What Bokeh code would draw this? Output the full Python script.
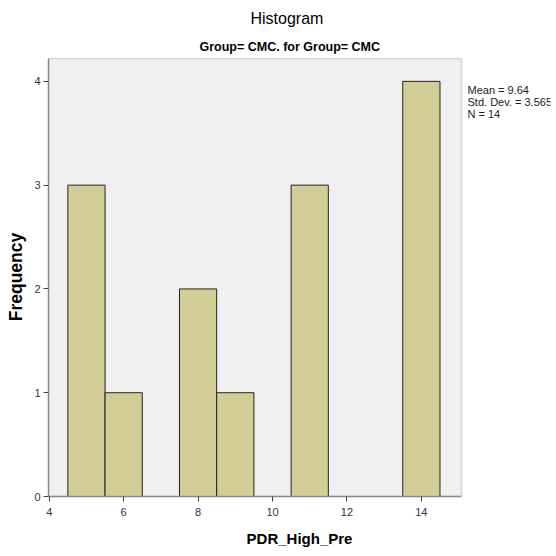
from bokeh.plotting import figure
from bokeh.models import ColumnDataSource, Label, Title, FixedTicker, Range1d, BoxAnnotation
from bokeh.embed import file_html
from bokeh.resources import INLINE

# data
bin_centers = [5, 6, 8, 9, 11, 14]
counts = [3, 1, 2, 1, 3, 4]
x_ticks = [4, 6, 8, 10, 12, 14]
y_ticks = [0, 1, 2, 3, 4]
stats_lines = ["Mean = 9.64", "Std. Dev. = 3.565", "N = 14"]
title_text = "Histogram"
subtitle_text = "Group= CMC. for Group= CMC"
x_label = "PDR_High_Pre"
y_label = "Frequency"

FONT = "Liberation Sans"
X0, X1 = 3.98, 15.08   # visible plot-area extent (data units)
Y0, Y1 = 0.0, 4.22

p = figure(width=552, height=552, output_backend="svg", toolbar_location=None,
           x_range=Range1d(X0, 17.47), y_range=Range1d(Y0, 4.23),
           min_border_left=48, min_border_right=2, min_border_top=57, min_border_bottom=56)

p.background_fill_color = "white"
p.border_fill_color = "white"
p.outline_line_color = None
p.xgrid.visible = False
p.ygrid.visible = False

p.add_layout(BoxAnnotation(left=X0, right=X1, bottom=Y0, top=Y1, fill_color="#f0f0f0",
                           fill_alpha=1, line_color="#8a8a8a", line_width=1.5, level="underlay"))

src = ColumnDataSource(dict(x=bin_centers, top=counts))
p.vbar(x="x", top="top", width=1.0, bottom=0, source=src,
       fill_color="#d3ce98", line_color="#222222", line_width=1)

for ax, ticks in ((p.xaxis, x_ticks), (p.yaxis, y_ticks)):
    ax.ticker = FixedTicker(ticks=ticks)
    ax.minor_tick_line_color = None
    ax.major_tick_out = 5
    ax.major_tick_in = 0
    ax.axis_line_color = "#8a8a8a"
    ax.axis_line_width = 1.5
    ax.major_tick_line_color = "#444444"
    ax.major_label_text_font = FONT
    ax.major_label_text_font_size = "11px"
    ax.major_label_text_color = "#333333"
    ax.axis_label_text_font = FONT
    ax.axis_label_text_font_style = "bold"
    ax.axis_label_text_color = "black"

p.xaxis.bounds = (X0, X1)
p.yaxis.bounds = (Y0, Y1)
p.xaxis.axis_label = x_label
p.xaxis.axis_label_text_font_size = "15px"
p.xaxis.major_label_standoff = 6
p.xaxis.axis_label_standoff = 11
p.yaxis.axis_label = y_label
p.yaxis.axis_label_text_font_size = "17.5px"
p.yaxis.major_label_standoff = 3
p.yaxis.axis_label_standoff = 5

sub = Title(text=subtitle_text, align="left", offset=151, standoff=8, text_font=FONT,
            text_font_size="12.5px", text_font_style="bold", text_color="black")
main = Title(text=title_text, align="left", offset=202, standoff=13, text_font=FONT,
             text_font_size="16px", text_font_style="normal", text_color="black")
p.add_layout(sub, "above")
p.add_layout(main, "above")

ys = [3.92, 3.80, 3.69]
for t, yv in zip(stats_lines, ys):
    p.add_layout(Label(x=15.24, y=yv, text=t, text_font=FONT, text_font_size="11px",
                       text_baseline="middle", text_color="#222222"))

open("out.html", "w").write(file_html(p, INLINE))
